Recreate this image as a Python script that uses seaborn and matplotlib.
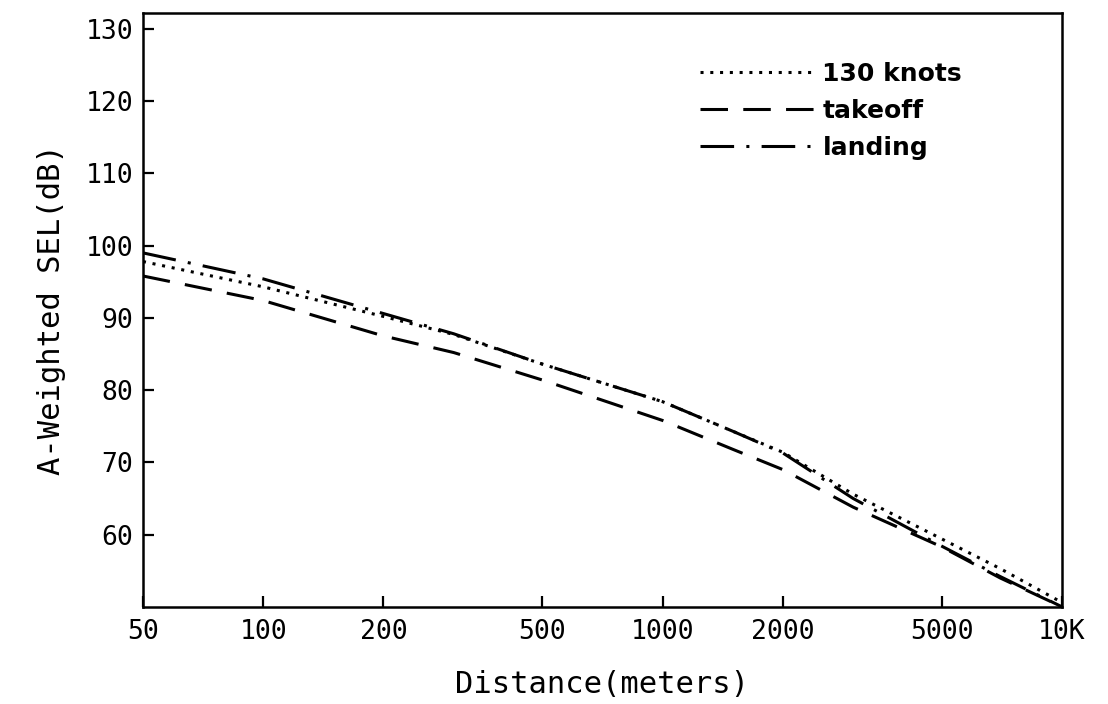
import matplotlib
matplotlib.use("Agg")
import matplotlib.pyplot as plt
import seaborn as sns
import pandas as pd
from matplotlib.ticker import FixedLocator, FixedFormatter, NullLocator

# Sound exposure level versus slant distance for three flight conditions
distance_m = [50, 100, 200, 300, 500, 1000, 1500, 2000, 3000, 5000, 7000, 10000]
sel_130_knots = [97.8, 94.3, 90.2, 87.7, 83.6, 78.4, 74.3, 71.4, 65.6, 59.4, 55.3, 50.6]
sel_takeoff = [95.8, 92.4, 87.5, 85.2, 81.4, 75.8, 71.8, 69.0, 63.8, 58.3, 54.0, 50.0]
sel_landing = [99.0, 95.4, 90.6, 87.8, 83.6, 78.4, 74.3, 71.3, 65.0, 58.4, 54.2, 50.0]

series_names = ["130 knots", "takeoff", "landing"]
x_ticks = [50, 100, 200, 500, 1000, 2000, 5000, 10000]
x_tick_labels = ["50", "100", "200", "500", "1000", "2000", "5000", "10K"]
y_ticks = [60, 70, 80, 90, 100, 110, 120, 130]

frames = []
for name, vals in zip(series_names, [sel_130_knots, sel_takeoff, sel_landing]):
    frames.append(pd.DataFrame({"distance": distance_m, "sel": vals, "case": name}))
df = pd.concat(frames, ignore_index=True)

sns.set_theme(style="ticks")
plt.rcParams["font.family"] = ["DejaVu Sans Mono", "DejaVu Sans"]
plt.rcParams["text.color"] = "black"
plt.rcParams["axes.labelcolor"] = "black"

fig = plt.figure(figsize=(11.08, 7.04), dpi=100)
ax = fig.add_axes([0.129, 0.138, 0.8295, 0.8435])

dash_styles = {
    "130 knots": (0, (1.0, 2.2)),
    "takeoff": (0, (9, 5)),
    "landing": (0, (11, 4, 1, 4)),
}
for name in series_names:
    sub = df[df["case"] == name]
    sns.lineplot(data=sub, x="distance", y="sel", ax=ax, color="black",
                 linewidth=2.2, linestyle=dash_styles[name], label=name,
                 estimator=None, sort=True)

ax.set_xscale("log")
ax.set_xlim(50, 10000)
ax.set_ylim(50, 132.2)

ax.xaxis.set_major_locator(FixedLocator(x_ticks))
ax.xaxis.set_major_formatter(FixedFormatter(x_tick_labels))
ax.xaxis.set_minor_locator(NullLocator())
ax.set_yticks(y_ticks)
ax.set_yticklabels([str(v) for v in y_ticks])

ax.tick_params(axis="both", direction="in", length=8, width=1.6,
               labelsize=19, colors="black")
ax.tick_params(axis="x", pad=9)
ax.tick_params(axis="y", pad=7)

for side in ["left", "right", "top", "bottom"]:
    ax.spines[side].set_visible(True)
    ax.spines[side].set_linewidth(1.8)
    ax.spines[side].set_color("black")

ax.set_xlabel("Distance(meters)", fontsize=22, labelpad=18, color="black")
ax.set_ylabel("A-Weighted SEL(dB)", fontsize=22, labelpad=14, color="black")

leg = ax.legend(loc="upper left", bbox_to_anchor=(700 / 1108, 1 - 62 / 704),
                bbox_transform=fig.transFigure, frameon=False,
                borderaxespad=0, borderpad=0,
                handlelength=4.6, handletextpad=0.3, labelspacing=0.52,
                prop={"family": "DejaVu Sans", "weight": "bold", "size": 18})
for line in leg.get_lines():
    line.set_linewidth(2.2)
for txt in leg.get_texts():
    txt.set_color("black")

ax.grid(False)
fig.savefig("out.png", dpi=100)
